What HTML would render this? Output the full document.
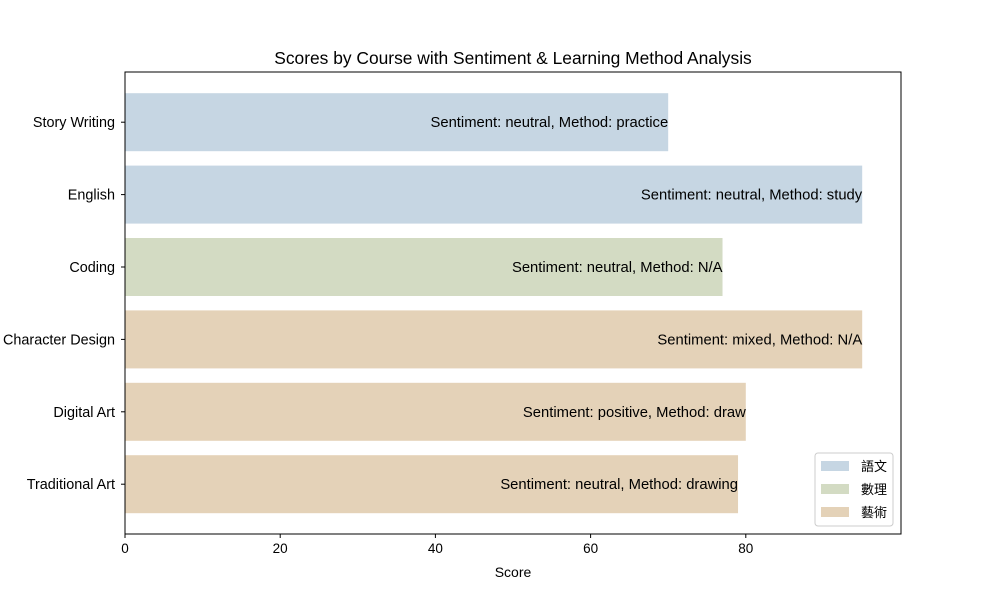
<!DOCTYPE html>
<html><head><meta charset="utf-8"><style>
body{margin:0;background:#fff}
text{font-family:"Liberation Sans","Noto Sans CJK TC",sans-serif;fill:#000}
</style></head><body>
<svg id="chart" width="1000" height="600" xmlns="http://www.w3.org/2000/svg">
<rect width="1000" height="600" fill="#fff"/>
<text x="513" y="64" font-size="17.4" text-anchor="middle">Scores by Course with Sentiment &amp; Learning Method Analysis</text>
<g id="plot"></g>
<rect x="125" y="72" width="776" height="462" fill="none" stroke="#000" stroke-width="1"/>
<text x="513" y="577" font-size="14" text-anchor="middle">Score</text>
<g>
<rect x="815" y="453" width="78" height="73" rx="3" fill="#fff" fill-opacity="0.8" stroke="#ccc"/>
<g><rect x="821" y="461" width="28" height="10" fill="#c6d6e3"/><text x="861" y="471" font-size="13">語文</text></g>
<g><rect x="821" y="484" width="28" height="10" fill="#d3dbc3"/><text x="861" y="494" font-size="13">數理</text></g>
<g><rect x="821" y="507" width="28" height="10" fill="#e4d2b8"/><text x="861" y="517" font-size="13">藝術</text></g>
</g>
</svg>
<script>
const courses=["Story Writing","English","Coding","Character Design","Digital Art","Traditional Art"];
const scores=[70,95,77,95,80,79];
const groups=["lang","lang","sci","art","art","art"];
const annotations=["Sentiment: neutral, Method: practice","Sentiment: neutral, Method: study","Sentiment: neutral, Method: N/A","Sentiment: mixed, Method: N/A","Sentiment: positive, Method: draw","Sentiment: neutral, Method: drawing"];
const xTicks=[0,20,40,60,80];
const colors={lang:"#c6d6e3",sci:"#d3dbc3",art:"#e4d2b8"};
const NS="http://www.w3.org/2000/svg";
const x0=125,x1=901,y0=72,y1=534,xMax=100;
const xs=v=>x0+(x1-x0)*v/xMax;
const step=72.4, firstC=122.2;
const yc=i=>firstC+i*step;
const g=document.getElementById('plot');
function mk(t,a){const e=document.createElementNS(NS,t);for(const k in a)e.setAttribute(k,a[k]);return e;}
courses.forEach((c,i)=>{
 const r=mk('rect',{x:x0,y:yc(i)-29,width:xs(scores[i])-x0,height:58,fill:colors[groups[i]]});
 
 
 g.appendChild(r);
 const t=mk('text',{x:xs(scores[i]),y:yc(i)+5,'font-size':14.8,'text-anchor':'end'});
 t.textContent=annotations[i];
 
 
 g.appendChild(t);
 const tk=mk('line',{x1:x0-4,x2:x0,y1:yc(i),y2:yc(i),stroke:'#000'});
 
 
 g.appendChild(tk);
 const l=mk('text',{x:x0-10,y:yc(i)+5,'font-size':14.4,'text-anchor':'end'});
 l.textContent=c;
 
 
 g.appendChild(l);
});
xTicks.forEach(v=>{
 const tk=mk('line',{x1:xs(v),x2:xs(v),y1:y1,y2:y1+4,stroke:'#000'});
 
 
 g.appendChild(tk);
 const l=mk('text',{x:xs(v),y:y1+19,'font-size':13.5,'text-anchor':'middle'});
 l.textContent=v;
 
 
 g.appendChild(l);
});
</script>
</body></html>
